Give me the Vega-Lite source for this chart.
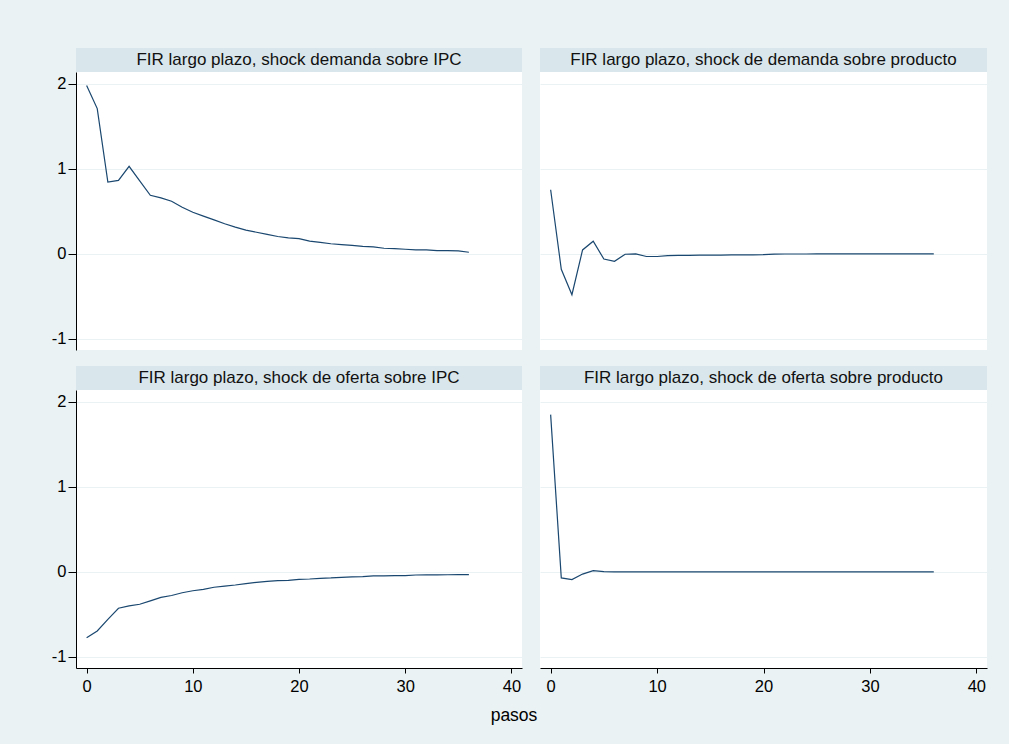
{
  "$schema": "https://vega.github.io/schema/vega-lite/v6.json",
  "background": "#EAF2F3",
  "padding": {"left": 51, "top": 48, "right": 22, "bottom": 22},
  "config": {
    "font": "Liberation Sans",
    "concat": {"spacing": 0},
    "view": {"stroke": null}
  },
  "datasets": {
    "irf": [
      {"panel": "a", "step": 0, "value": 1.98}, {"panel": "a", "step": 1, "value": 1.71}, {"panel": "a", "step": 2, "value": 0.845}, {"panel": "a", "step": 3, "value": 0.865}, {"panel": "a", "step": 4, "value": 1.03}, {"panel": "a", "step": 5, "value": 0.86}, {"panel": "a", "step": 6, "value": 0.69}, {"panel": "a", "step": 7, "value": 0.66}, {"panel": "a", "step": 8, "value": 0.62}, {"panel": "a", "step": 9, "value": 0.55}, {"panel": "a", "step": 10, "value": 0.49}, {"panel": "a", "step": 11, "value": 0.445}, {"panel": "a", "step": 12, "value": 0.4}, {"panel": "a", "step": 13, "value": 0.355}, {"panel": "a", "step": 14, "value": 0.315}, {"panel": "a", "step": 15, "value": 0.28}, {"panel": "a", "step": 16, "value": 0.255}, {"panel": "a", "step": 17, "value": 0.23}, {"panel": "a", "step": 18, "value": 0.205}, {"panel": "a", "step": 19, "value": 0.19}, {"panel": "a", "step": 20, "value": 0.18}, {"panel": "a", "step": 21, "value": 0.15}, {"panel": "a", "step": 22, "value": 0.135}, {"panel": "a", "step": 23, "value": 0.12}, {"panel": "a", "step": 24, "value": 0.11}, {"panel": "a", "step": 25, "value": 0.1}, {"panel": "a", "step": 26, "value": 0.09}, {"panel": "a", "step": 27, "value": 0.083}, {"panel": "a", "step": 28, "value": 0.067}, {"panel": "a", "step": 29, "value": 0.063}, {"panel": "a", "step": 30, "value": 0.055}, {"panel": "a", "step": 31, "value": 0.047}, {"panel": "a", "step": 32, "value": 0.047}, {"panel": "a", "step": 33, "value": 0.04}, {"panel": "a", "step": 34, "value": 0.04}, {"panel": "a", "step": 35, "value": 0.035}, {"panel": "a", "step": 36, "value": 0.02},
      {"panel": "b", "step": 0, "value": 0.755}, {"panel": "b", "step": 1, "value": -0.18}, {"panel": "b", "step": 2, "value": -0.48}, {"panel": "b", "step": 3, "value": 0.047}, {"panel": "b", "step": 4, "value": 0.15}, {"panel": "b", "step": 5, "value": -0.06}, {"panel": "b", "step": 6, "value": -0.087}, {"panel": "b", "step": 7, "value": -0.004}, {"panel": "b", "step": 8, "value": 0.0}, {"panel": "b", "step": 9, "value": -0.03}, {"panel": "b", "step": 10, "value": -0.03}, {"panel": "b", "step": 11, "value": -0.02}, {"panel": "b", "step": 12, "value": -0.018}, {"panel": "b", "step": 13, "value": -0.016}, {"panel": "b", "step": 14, "value": -0.015}, {"panel": "b", "step": 15, "value": -0.014}, {"panel": "b", "step": 16, "value": -0.013}, {"panel": "b", "step": 17, "value": -0.012}, {"panel": "b", "step": 18, "value": -0.011}, {"panel": "b", "step": 19, "value": -0.01}, {"panel": "b", "step": 20, "value": -0.009}, {"panel": "b", "step": 21, "value": -0.002}, {"panel": "b", "step": 22, "value": -0.001}, {"panel": "b", "step": 23, "value": -0.001}, {"panel": "b", "step": 24, "value": -0.001}, {"panel": "b", "step": 25, "value": 0.0}, {"panel": "b", "step": 26, "value": 0.0}, {"panel": "b", "step": 27, "value": 0.0}, {"panel": "b", "step": 28, "value": 0.0}, {"panel": "b", "step": 29, "value": 0.0}, {"panel": "b", "step": 30, "value": 0.0}, {"panel": "b", "step": 31, "value": 0.0}, {"panel": "b", "step": 32, "value": 0.0}, {"panel": "b", "step": 33, "value": 0.0}, {"panel": "b", "step": 34, "value": 0.0}, {"panel": "b", "step": 35, "value": 0.0}, {"panel": "b", "step": 36, "value": 0.0},
      {"panel": "c", "step": 0, "value": -0.775}, {"panel": "c", "step": 1, "value": -0.695}, {"panel": "c", "step": 2, "value": -0.557}, {"panel": "c", "step": 3, "value": -0.427}, {"panel": "c", "step": 4, "value": -0.4}, {"panel": "c", "step": 5, "value": -0.38}, {"panel": "c", "step": 6, "value": -0.34}, {"panel": "c", "step": 7, "value": -0.3}, {"panel": "c", "step": 8, "value": -0.277}, {"panel": "c", "step": 9, "value": -0.245}, {"panel": "c", "step": 10, "value": -0.221}, {"panel": "c", "step": 11, "value": -0.206}, {"panel": "c", "step": 12, "value": -0.18}, {"panel": "c", "step": 13, "value": -0.166}, {"panel": "c", "step": 14, "value": -0.154}, {"panel": "c", "step": 15, "value": -0.138}, {"panel": "c", "step": 16, "value": -0.123}, {"panel": "c", "step": 17, "value": -0.111}, {"panel": "c", "step": 18, "value": -0.103}, {"panel": "c", "step": 19, "value": -0.099}, {"panel": "c", "step": 20, "value": -0.087}, {"panel": "c", "step": 21, "value": -0.083}, {"panel": "c", "step": 22, "value": -0.075}, {"panel": "c", "step": 23, "value": -0.071}, {"panel": "c", "step": 24, "value": -0.063}, {"panel": "c", "step": 25, "value": -0.059}, {"panel": "c", "step": 26, "value": -0.055}, {"panel": "c", "step": 27, "value": -0.047}, {"panel": "c", "step": 28, "value": -0.047}, {"panel": "c", "step": 29, "value": -0.043}, {"panel": "c", "step": 30, "value": -0.043}, {"panel": "c", "step": 31, "value": -0.036}, {"panel": "c", "step": 32, "value": -0.035}, {"panel": "c", "step": 33, "value": -0.034}, {"panel": "c", "step": 34, "value": -0.033}, {"panel": "c", "step": 35, "value": -0.032}, {"panel": "c", "step": 36, "value": -0.031},
      {"panel": "d", "step": 0, "value": 1.85}, {"panel": "d", "step": 1, "value": -0.07}, {"panel": "d", "step": 2, "value": -0.09}, {"panel": "d", "step": 3, "value": -0.025}, {"panel": "d", "step": 4, "value": 0.015}, {"panel": "d", "step": 5, "value": 0.003}, {"panel": "d", "step": 6, "value": 0.0}, {"panel": "d", "step": 7, "value": 0.0}, {"panel": "d", "step": 8, "value": 0.0}, {"panel": "d", "step": 9, "value": 0.0}, {"panel": "d", "step": 10, "value": 0.0}, {"panel": "d", "step": 11, "value": 0.0}, {"panel": "d", "step": 12, "value": 0.0}, {"panel": "d", "step": 13, "value": 0.0}, {"panel": "d", "step": 14, "value": 0.0}, {"panel": "d", "step": 15, "value": 0.0}, {"panel": "d", "step": 16, "value": 0.0}, {"panel": "d", "step": 17, "value": 0.0}, {"panel": "d", "step": 18, "value": 0.0}, {"panel": "d", "step": 19, "value": 0.0}, {"panel": "d", "step": 20, "value": 0.0}, {"panel": "d", "step": 21, "value": 0.0}, {"panel": "d", "step": 22, "value": 0.0}, {"panel": "d", "step": 23, "value": 0.0}, {"panel": "d", "step": 24, "value": 0.0}, {"panel": "d", "step": 25, "value": 0.0}, {"panel": "d", "step": 26, "value": 0.0}, {"panel": "d", "step": 27, "value": 0.0}, {"panel": "d", "step": 28, "value": 0.0}, {"panel": "d", "step": 29, "value": 0.0}, {"panel": "d", "step": 30, "value": 0.0}, {"panel": "d", "step": 31, "value": 0.0}, {"panel": "d", "step": 32, "value": 0.0}, {"panel": "d", "step": 33, "value": 0.0}, {"panel": "d", "step": 34, "value": 0.0}, {"panel": "d", "step": 35, "value": 0.0}, {"panel": "d", "step": 36, "value": 0.0}
    ]
  },
  "title": {"text": "pasos", "orient": "bottom", "anchor": "middle", "fontSize": 17.5, "fontWeight": "normal", "color": "#000", "font": "Liberation Sans", "offset": 12, "dx": -5},
  "vconcat": [
    {
      "hconcat": [
        {
          "vconcat": [
            {"width": 446, "height": 24, "view": {"fill": "#D9E6EB", "stroke": null}, "data": {"values": [{"t": "FIR largo plazo, shock demanda sobre IPC"}]}, "mark": {"type": "text", "fontSize": 17, "color": "#111"}, "encoding": {"text": {"field": "t"}}},
            {"width": 446, "height": 278, "view": {"fill": "white", "stroke": null}, "data": {"name": "irf"}, "transform": [{"filter": "datum.panel == 'a'"}],
             "mark": {"type": "line", "color": "#1A476F", "strokeWidth": 1.2},
             "encoding": {
               "x": {"field": "step", "type": "quantitative", "scale": {"domain": [-1, 41], "nice": false, "zero": false}, "axis": null},
               "y": {"field": "value", "type": "quantitative", "scale": {"domain": [-1.13, 2.14], "nice": false, "zero": false}, "axis": {"values": [-1, 0, 1, 2], "labelExpr": "toString(datum.value)", "title": null, "grid": true, "gridColor": "#EAF2F3", "domainColor": "#000", "tickColor": "#000", "tickSize": 8, "labelPadding": 2, "labelFontSize": 16.5, "labelColor": "#000", "minExtent": 25, "maxExtent": 25}}
             }}
          ]
        },
        {
          "vconcat": [
            {"width": 447, "height": 24, "view": {"fill": "#D9E6EB", "stroke": null}, "data": {"values": [{"t": "FIR largo plazo, shock de demanda sobre producto"}]}, "mark": {"type": "text", "fontSize": 17, "color": "#111"}, "encoding": {"text": {"field": "t"}}},
            {"width": 447, "height": 278, "view": {"fill": "white", "stroke": null}, "data": {"name": "irf"}, "transform": [{"filter": "datum.panel == 'b'"}],
             "mark": {"type": "line", "color": "#1A476F", "strokeWidth": 1.2},
             "encoding": {
               "x": {"field": "step", "type": "quantitative", "scale": {"domain": [-1, 41], "nice": false, "zero": false}, "axis": null},
               "y": {"field": "value", "type": "quantitative", "scale": {"domain": [-1.13, 2.14], "nice": false, "zero": false}, "axis": {"values": [-1, 0, 1, 2], "title": null, "grid": true, "gridColor": "#EAF2F3", "domain": false, "ticks": false, "labels": false, "minExtent": 0, "maxExtent": 0}}
             }}
          ]
        }
      ],
      "spacing": 18
    },
    {
      "hconcat": [
        {
          "vconcat": [
            {"width": 446, "height": 24, "view": {"fill": "#D9E6EB", "stroke": null}, "data": {"values": [{"t": "FIR largo plazo, shock de oferta sobre IPC"}]}, "mark": {"type": "text", "fontSize": 17, "color": "#111"}, "encoding": {"text": {"field": "t"}}},
            {"width": 446, "height": 278, "view": {"fill": "white", "stroke": null}, "data": {"name": "irf"}, "transform": [{"filter": "datum.panel == 'c'"}],
             "mark": {"type": "line", "color": "#1A476F", "strokeWidth": 1.2},
             "encoding": {
               "x": {"field": "step", "type": "quantitative", "scale": {"domain": [-1, 41], "nice": false, "zero": false}, "axis": {"values": [0, 10, 20, 30, 40], "title": null, "grid": false, "domainColor": "#000", "tickColor": "#000", "tickSize": 5, "labelPadding": 5, "labelFontSize": 16.5, "labelColor": "#000"}},
               "y": {"field": "value", "type": "quantitative", "scale": {"domain": [-1.13, 2.14], "nice": false, "zero": false}, "axis": {"values": [-1, 0, 1, 2], "labelExpr": "toString(datum.value)", "title": null, "grid": true, "gridColor": "#EAF2F3", "domainColor": "#000", "tickColor": "#000", "tickSize": 8, "labelPadding": 2, "labelFontSize": 16.5, "labelColor": "#000", "minExtent": 25, "maxExtent": 25}}
             }}
          ]
        },
        {
          "vconcat": [
            {"width": 447, "height": 24, "view": {"fill": "#D9E6EB", "stroke": null}, "data": {"values": [{"t": "FIR largo plazo, shock de oferta sobre producto"}]}, "mark": {"type": "text", "fontSize": 17, "color": "#111"}, "encoding": {"text": {"field": "t"}}},
            {"width": 447, "height": 278, "view": {"fill": "white", "stroke": null}, "data": {"name": "irf"}, "transform": [{"filter": "datum.panel == 'd'"}],
             "mark": {"type": "line", "color": "#1A476F", "strokeWidth": 1.2},
             "encoding": {
               "x": {"field": "step", "type": "quantitative", "scale": {"domain": [-1, 41], "nice": false, "zero": false}, "axis": {"values": [0, 10, 20, 30, 40], "title": null, "grid": false, "domainColor": "#000", "tickColor": "#000", "tickSize": 5, "labelPadding": 5, "labelFontSize": 16.5, "labelColor": "#000"}},
               "y": {"field": "value", "type": "quantitative", "scale": {"domain": [-1.13, 2.14], "nice": false, "zero": false}, "axis": {"values": [-1, 0, 1, 2], "title": null, "grid": true, "gridColor": "#EAF2F3", "domain": false, "ticks": false, "labels": false, "minExtent": 0, "maxExtent": 0}}
             }}
          ]
        }
      ],
      "spacing": 18
    }
  ],
  "spacing": 16
}
